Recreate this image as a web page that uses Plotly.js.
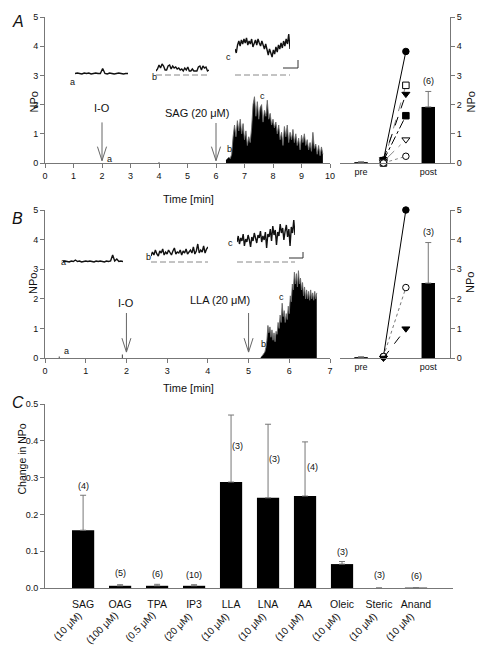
<!DOCTYPE html>
<html><head><meta charset="utf-8">
<script src="https://cdn.plot.ly/plotly-3.0.1.min.js"></script>
<style>html,body{margin:0;padding:0;background:#fff}</style>
</head><body><div id="chart" style="width:487px;height:653px"></div>
<script>
// ---------- DATA ----------
// Panel A: NPo recording after SAG (sampled every 0.05 min starting 6.35 min)
const tStartA = 6.35, tStepA = 0.05;
const npoA = [0.1,0.15,0.2,0.15,0.3,0.9,1.3,0.9,1.45,1.1,
  1.5,1.0,1.35,0.8,1.1,0.6,0.9,0.7,1.2,2.0,
  2.27,1.6,2.1,1.5,1.9,2.0,1.4,1.8,1.6,2.15,
  1.5,1.7,1.3,1.5,1.2,1.4,1.0,1.3,0.8,1.05,
  0.6,1.25,0.9,1.3,0.7,1.05,0.8,1.15,0.7,1.0,
  0.6,0.85,0.45,0.95,0.7,1.0,0.6,0.8,0.45,0.7,
  0.4,1.05,0.5,0.65,0.3,0.6,0.25,0.55,0.3];
const blipTimeA = [4.0], blipNpoA = [0.03];
// Panel B: NPo recording after LLA (sampled every 0.025 min starting 5.3 min)
const tStartB = 5.3, tStepB = 0.025;
const npoB = [0.02,0.05,0.1,0.15,0.2,0.35,0.6,1.1,0.85,1.05,
  0.7,0.95,0.6,0.85,0.55,0.9,0.8,1.2,1.0,1.45,
  1.2,1.85,1.4,1.6,1.2,1.5,1.3,1.75,1.5,2.1,
  1.9,2.5,2.3,2.9,2.5,2.85,2.4,2.95,2.5,2.7,
  2.3,2.55,2.1,2.4,2.0,2.3,2.0,2.25,1.95,2.3,
  2.0,2.2,1.95,2.25,2.0,2.2];
const blipTimeB = [0.35, 1.9], blipNpoB = [0.05, 0.12];

// Single-channel inset traces (current levels, baseline = 0)
const insetAa = [0.15,0.2,0.15,0.1,0.2,0.15,0.2,0.1,0.15,0.2,0.15,0.15,0.65,0.15,0.1,0.2,0.15,0.1,0.15,0.2,0.15,0.1,0.15,0.15];
const insetAb = [0.4,0.6,1.0,0.7,1.1,0.9,0.5,0.5,0.9,1.0,0.6,0.9,0.7,0.8,0.6,0.7,0.5,0.6,0.4,0.7,0.5,0.8,0.4,0.4,0.6,0.4,0.4,0.4,0.8,0.9,0.5,0.9,0.7,0.8,0.4,0.5];
const insetAc = [2.6,2.2,3.0,3.4,2.9,3.5,3.1,3.6,3.2,3.7,3.0,3.4,3.1,3.6,2.8,3.3,3.5,3.0,3.6,3.2,2.9,3.4,3.0,2.6,3.1,2.4,2.0,2.6,2.2,1.8,2.5,2.1,2.8,2.3,3.0,2.6,3.2,2.7,3.4,2.9,3.6,3.1,4.1,2.6];
const insetBa = [0.05,0.1,0.05,0.0,0.1,0.05,0.2,0.05,0.1,0.0,0.05,0.1,0.05,0.1,0.05,0.0,0.1,0.05,0.1,0.05,0.0,0.1,0.05,0.1,0.7,0.1,0.3,0.05,0.1,0.05];
const insetBb = [0.6,1.0,0.7,1.2,0.8,0.6,1.1,0.9,1.3,0.7,1.0,0.8,1.2,0.9,0.7,1.1,1.4,0.8,1.0,0.9,1.2,0.7,1.1,0.9,1.3,0.8,1.0,1.2,0.9,1.5,0.8,1.1,1.8,0.9,1.2,1.0,1.6,0.9,1.3,1.5];
const insetBc = [2.0,2.6,1.8,2.4,2.1,2.8,1.6,2.3,2.0,2.7,2.2,1.5,2.5,2.1,2.9,2.3,1.9,2.7,2.4,3.1,2.0,2.6,2.2,3.0,1.4,2.8,2.5,3.3,2.1,3.6,2.7,3.2,1.7,3.0,2.6,3.8,2.9,3.4,2.2,3.1,3.7,2.5,3.3,1.6,3.5,2.9,4.2,2.7];

// Paired pre/post values (right panels)
const pairedBeforeA = [0.10,0.0,0.12,0.08,0.05,0.0];
const pairedAfterA  = [3.82,2.66,2.36,1.62,0.80,0.23];
const summaryLabels = ['pre','post'];
const meanA = [0.03,1.92], semA = [0.01,0.53], nA = 6;
const pairedBeforeB = [0.05,0.05,0.0];
const pairedAfterB  = [5.0,2.38,0.99];
const meanB = [0.03,2.53], semB = [0.01,1.37], nB = 3;

// Panel C
const compounds = ['SAG','OAG','TPA','IP3','LLA','LNA','AA','Oleic','Steric','Anand'];
const concentrations = ['(10 μM)','(100 μM)','(0.5 μM)','(20 μM)','(10 μM)','(10 μM)','(10 μM)','(10 μM)','(10 μM)','(10 μM)'];
const changeNPo = [0.157,0.006,0.006,0.006,0.288,0.245,0.25,0.065,0.0,0.001];
const changeSEM = [0.095,0.003,0.004,0.003,0.182,0.2,0.147,0.007,0.0,0.0];
const nCells = [4,5,6,10,3,3,4,3,3,6];

// ---------- LAYOUT HELPERS ----------
const W = 487, H = 653;
const FONT = 'Liberation Sans, Arial, Helvetica, sans-serif';
const INK = '#111111';
const px = p => p / W;
const py = p => 1 - p / H;
const dX = (a, b) => [px(a), px(b)];
const dY = (top, bot) => [py(bot), py(top)];
const GRAY = '#777';
const axBase = {showline:true, linecolor:GRAY, linewidth:1, ticks:'outside', tickcolor:GRAY,
  ticklen:4, tickwidth:1, tickfont:{size:9, color:INK, family:FONT}, showgrid:false, zeroline:false, fixedrange:true};
const hid = {visible:false, fixedrange:true};

const traces = [];
const shapes = [];
const annotations = [];

function timeSeries(start, step, vals) { return vals.map((_, i) => +(start + step * i).toFixed(4)); }

// Main recordings
function recording(xa, ya, start, step, vals, bt, bv, bw) {
  traces.push({type:'bar', x:bt, y:bv, width:bw, marker:{color:'#444'}, xaxis:xa, yaxis:ya, hoverinfo:'skip'});
  traces.push({type:'scatter', mode:'lines', x:timeSeries(start, step, vals), y:vals, fill:'tozeroy',
    fillcolor:'#000', line:{color:'#6a6a6a', width:0.9}, xaxis:xa, yaxis:ya, hoverinfo:'skip'});
}
recording('x','y', tStartA, tStepA, npoA, blipTimeA, blipNpoA, 0.03);
recording('x3','y3', tStartB, tStepB, npoB, blipTimeB, blipNpoB, 0.025);

// Paired plots
const pairStylesA = [
  {sym:'circle', fill:'#000', dash:'solid', lc:'#000'},
  {sym:'square', fill:'#fff', dash:'dash', lc:'#888'},
  {sym:'triangle-down', fill:'#000', dash:'dash', lc:'#000'},
  {sym:'square', fill:'#000', dash:'dashdot', lc:'#000'},
  {sym:'triangle-down', fill:'#fff', dash:'longdashdot', lc:'#888'},
  {sym:'circle', fill:'#fff', dash:'dot', lc:'#888'}
];
const pairStylesB = [
  {sym:'circle', fill:'#000', dash:'solid', lc:'#000'},
  {sym:'circle', fill:'#fff', dash:'dot', lc:'#777'},
  {sym:'triangle-down', fill:'#000', dash:'dash', lc:'#000'}
];
function paired(xa, ya, before, after, styles, mean, sem, n, labY) {
  traces.push({type:'bar', x:[0,3], y:mean, width:0.6, marker:{color:'#000'},
    error_y:{type:'data', symmetric:false, array:sem, arrayminus:sem.map(()=>0), color:GRAY, thickness:1, width:3},
    xaxis:xa, yaxis:ya, hoverinfo:'skip'});
  before.forEach((b, i) => {
    const s = styles[i];
    traces.push({type:'scatter', mode:'lines+markers', x:[1,2], y:[b, after[i]], cliponaxis:false,
      line:{color:s.lc, width:1, dash:s.dash},
      marker:{symbol:s.sym, size:s.sym.startsWith('triangle')?7:6.5, color:s.fill, line:{color:'#000', width:1}},
      xaxis:xa, yaxis:ya, hoverinfo:'skip'});
  });
  annotations.push({xref:xa, yref:ya, x:3, y:labY, text:'('+n+')', showarrow:false, font:{size:9, family:FONT, color:INK}});
}
paired('x2','y2', pairedBeforeA, pairedAfterA, pairStylesA, meanA, semA, nA, 2.82);
paired('x4','y4', pairedBeforeB, pairedAfterB, pairStylesB, meanB, semB, nB, 4.27);

// Panel C bars
const cx = compounds.map((_, i) => i);
traces.push({type:'bar', x:cx, y:changeNPo, width:0.6, marker:{color:'#000'},
  error_y:{type:'data', symmetric:false, array:changeSEM, arrayminus:changeSEM.map(()=>0), color:GRAY, thickness:1, width:3},
  xaxis:'x5', yaxis:'y5', hoverinfo:'skip'});
const nLabY = [0.278,0.04,0.039,0.036,0.386,0.35,0.33,0.097,0.034,0.032];
const nLabDx = [0,0,0,0,6,6,7,0,0,0];
nCells.forEach((n, i) => annotations.push({xref:'x5', yref:'y5', x:i, y:nLabY[i], xshift:nLabDx[i],
  text:'('+n+')', showarrow:false, font:{size:9, family:FONT, color:INK}}));
concentrations.forEach((c, i) => annotations.push({xref:'x5', yref:'paper', x:i, y:py(607), xshift:3,
  xanchor:'right', yanchor:'top', text:c, textangle:-45, showarrow:false, font:{size:10, family:FONT, color:INK}}));

// Insets
const insets = [
  {xa:'x6', ya:'y6', v:insetAa, dash:false},
  {xa:'x7', ya:'y6', v:insetAb, dash:true},
  {xa:'x8', ya:'y6', v:insetAc, dash:true},
  {xa:'x9', ya:'y7', v:insetBa, dash:false},
  {xa:'x10', ya:'y7', v:insetBb, dash:true},
  {xa:'x11', ya:'y7', v:insetBc, dash:true}
];
insets.forEach(ins => {
  traces.push({type:'scatter', mode:'lines', x:ins.v.map((_, i) => i), y:ins.v, line:{color:'#111', width:1.4},
    xaxis:ins.xa, yaxis:ins.ya, hoverinfo:'skip'});
  if (ins.dash) shapes.push({type:'line', xref:ins.xa, yref:ins.ya, x0:0, x1:ins.v.length-1, y0:0, y1:0,
    line:{color:'#888', width:1, dash:'6px,3px'}});
});
// inset labels (pixel positions)
[['a',68,75],['b',150,70],['c',228,50],['a',59,262],['b',144,257],['c',230,243]].forEach(l =>
  annotations.push({xref:'paper', yref:'paper', x:px(l[1]), y:py(l[2]), text:l[0], showarrow:false, font:{size:9, family:FONT, color:INK}}));
// scale bars
[[283,298,60,68],[289,303,252,258]].forEach(s => {
  shapes.push({type:'line', xref:'paper', yref:'paper', x0:px(s[1]), x1:px(s[1]), y0:py(s[2]), y1:py(s[3]), line:{color:'#333', width:1}});
  shapes.push({type:'line', xref:'paper', yref:'paper', x0:px(s[0]), x1:px(s[1]), y0:py(s[3]), y1:py(s[3]), line:{color:'#333', width:1}});
});

// Arrows (open V heads) drawn as shapes in data coordinates
function arrow(xa, ya, x, tip, tail, hw, hh) {
  const st = {color:'#666', width:1};
  shapes.push({type:'line', xref:xa, yref:ya, x0:x, x1:x, y0:tail, y1:tip, line:st});
  shapes.push({type:'line', xref:xa, yref:ya, x0:x-hw, x1:x, y0:tip+hh, y1:tip, line:st});
  shapes.push({type:'line', xref:xa, yref:ya, x0:x+hw, x1:x, y0:tip+hh, y1:tip, line:st});
}
arrow('x','y', 2, 0.08, 1.39, 0.16, 0.48);
arrow('x','y', 6, 0.08, 1.37, 0.16, 0.48);
arrow('x3','y3', 2, 0.2, 1.52, 0.11, 0.47);
arrow('x3','y3', 5, 0.2, 1.52, 0.11, 0.47);
function txt(xa, ya, x, y, t, size) {
  annotations.push({xref:xa, yref:ya, x:x, y:y, text:t, showarrow:false, font:{size:size, family:FONT, color:INK}});
}
txt('x','y', 2, 1.88, 'I-O', 11);
txt('x','y', 5.33, 1.72, 'SAG (20 μM)', 11);
txt('x','y', 2.27, 0.14, 'a', 9);
txt('x','y', 6.47, 0.47, 'b', 9);
txt('x','y', 7.64, 2.28, 'c', 9);
txt('x3','y3', 2, 1.85, 'I-O', 11);
txt('x3','y3', 4.3, 1.97, 'LLA (20 μM)', 11);
txt('x3','y3', 0.53, 0.25, 'a', 9);
txt('x3','y3', 5.37, 0.48, 'b', 9);
txt('x3','y3', 5.8, 2.06, 'c', 9);

// Axis titles & panel letters (pixel positions)
function ptxt(x, y, t, size, angle, italic) {
  annotations.push({xref:'paper', yref:'paper', x:px(x), y:py(y), text:t, showarrow:false, textangle:angle||0,
    font:{size:size, family:FONT, color:INK, style: italic ? 'italic' : 'normal'}});
}
ptxt(25, 90, 'NPo', 11, -90);
ptxt(478, 90, 'NPo', 11, -90);
ptxt(188, 191, 'Time [min]', 11);
ptxt(25, 284, 'NPo', 11, -90);
ptxt(478, 283, 'NPo', 11, -90);
ptxt(188, 388, 'Time [min]', 11);
ptxt(13, 497, 'Change in NPo', 10.5, -90);
ptxt(10, 11, 'A', 16, 0, true);
ptxt(10, 208, 'B', 16, 0, true);
ptxt(10, 402, 'C', 16, 0, true);

const layout = {
  width:W, height:H, margin:{l:0, r:0, t:0, b:0}, showlegend:false, barmode:'overlay',
  paper_bgcolor:'#fff', plot_bgcolor:'rgba(0,0,0,0)', font:{family:FONT, color:INK},
  xaxis: Object.assign({}, axBase, {domain:dX(45,330), range:[0,10], dtick:1, anchor:'y'}),
  yaxis: Object.assign({}, axBase, {domain:dY(17,163), range:[0,5], dtick:1, anchor:'x'}),
  xaxis2: Object.assign({}, axBase, {domain:dX(340,450), range:[-0.94,3.97], tickvals:[0,3], ticktext:summaryLabels, ticks:'', anchor:'y2'}),
  yaxis2: Object.assign({}, axBase, {domain:dY(17,163), range:[0,5], dtick:1, side:'right', anchor:'x2'}),
  xaxis3: Object.assign({}, axBase, {domain:dX(45,330), range:[0,7], dtick:1, anchor:'y3'}),
  yaxis3: Object.assign({}, axBase, {domain:dY(210,358), range:[0,5], dtick:1, anchor:'x3'}),
  xaxis4: Object.assign({}, axBase, {domain:dX(340,450), range:[-0.94,3.97], tickvals:[0,3], ticktext:summaryLabels, ticks:'', anchor:'y4'}),
  yaxis4: Object.assign({}, axBase, {domain:dY(210,358), range:[0,5], dtick:1, side:'right', anchor:'x4'}),
  xaxis5: Object.assign({}, axBase, {domain:dX(45,453), range:[-1.03,10.0], tickvals:cx, ticktext:compounds, ticks:'',
    ticklabelstandoff:6, tickfont:{size:10.5, color:INK, family:FONT}, anchor:'y5'}),
  yaxis5: Object.assign({}, axBase, {domain:dY(404,588), range:[0,0.5], dtick:0.1, tickformat:'.1f', anchor:'x5'}),
  xaxis6: Object.assign({}, hid, {domain:dX(75,128), range:[0, insetAa.length-1], anchor:'y6'}),
  xaxis7: Object.assign({}, hid, {domain:dX(156,209), range:[0, insetAb.length-1], anchor:'y6'}),
  xaxis8: Object.assign({}, hid, {domain:dX(235,290), range:[0, insetAc.length-1], anchor:'y6'}),
  yaxis6: Object.assign({}, hid, {domain:dY(25,80), range:[-0.5,5.0], anchor:'x6'}),
  xaxis9: Object.assign({}, hid, {domain:dX(63,123), range:[0, insetBa.length-1], anchor:'y7'}),
  xaxis10: Object.assign({}, hid, {domain:dX(151,208), range:[0, insetBb.length-1], anchor:'y7'}),
  xaxis11: Object.assign({}, hid, {domain:dX(237,295), range:[0, insetBc.length-1], anchor:'y7'}),
  yaxis7: Object.assign({}, hid, {domain:dY(205,267), range:[-0.5,5.7], anchor:'x9'}),
  shapes: shapes, annotations: annotations
};
Plotly.newPlot('chart', traces, layout, {staticPlot:true, displayModeBar:false});
</script></body></html>
